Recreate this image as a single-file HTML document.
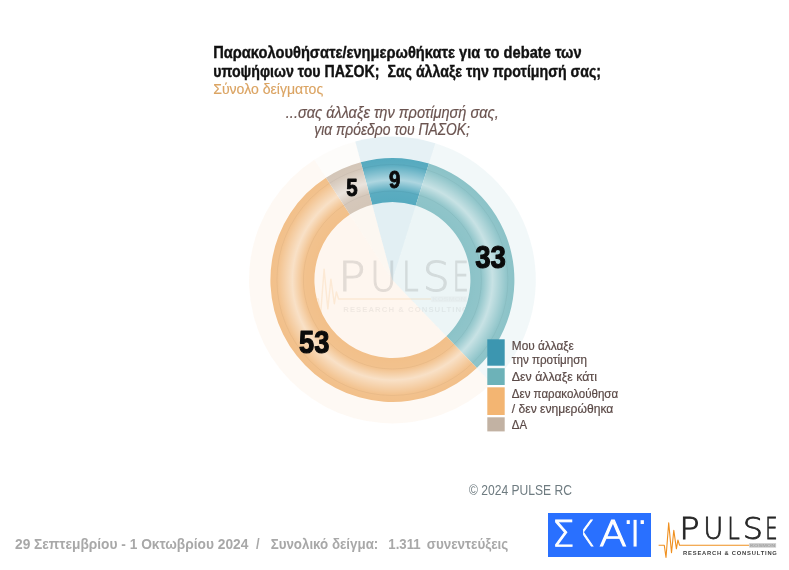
<!DOCTYPE html>
<html lang="el">
<head>
<meta charset="utf-8">
<title>PULSE RC - ΣΚΑΪ</title>
<style>
html,body{margin:0;padding:0;background:#fff;}
body{width:789px;height:570px;overflow:hidden;position:relative;}
svg{display:block;position:absolute;left:0;top:0;}
svg{font-family:"Liberation Sans",sans-serif;}
.b{font-weight:bold;}
.i{font-style:italic;}
.thin{font-family:"DejaVu Sans Light","DejaVu Sans","Liberation Sans",sans-serif;font-weight:200;}
</style>
</head>
<body>
<svg width="789" height="570" viewBox="0 0 789 570">
<defs>
<radialGradient id="tube" gradientUnits="userSpaceOnUse" cx="392.4" cy="280.0" r="122.0">
<stop offset="0.6393" stop-color="#fff" stop-opacity="0"/>
<stop offset="0.7295" stop-color="#fff" stop-opacity="0.03"/>
<stop offset="0.8197" stop-color="#fff" stop-opacity="0.52"/>
<stop offset="0.9426" stop-color="#fff" stop-opacity="0.03"/>
<stop offset="1" stop-color="#fff" stop-opacity="0"/>
</radialGradient>
<g id="pulse">
<g class="thin" font-size="30.2" fill="#262626" stroke="#262626" stroke-width="0.8"><text transform="translate(-3.83,-0.3) scale(1.12,1)">P</text><text transform="translate(20.02,-0.3) scale(0.912,1)">U</text><text transform="translate(44.05,-0.3) scale(0.746,1)">L</text><text transform="translate(59.67,-0.3) scale(1.056,1)">S</text><text transform="translate(82.03,-0.3) scale(0.645,1)">E</text></g>
<polyline points="-24.6,5.6 -18.9,5.6 -17.2,17.8 -14.5,-16.8 -11.7,13 -9.4,-9.3 -6.8,9.1 -5.3,0.3 -3.6,5.6 66,5.6" fill="none" stroke="#f0901f" stroke-width="1.1" stroke-linejoin="round"/>
<rect x="66" y="3.5" width="26.9" height="4.4" fill="#c9c9c9"/>
<text class="b" x="66.8" y="7.3" font-size="4.2" fill="#a6a6a6" textLength="25.3" lengthAdjust="spacingAndGlyphs">KOSMON</text>
</g>
<g id="pulsesub">
<text class="b" x="-0.1" y="15.1" font-size="5.8" fill="#3d3d3d" textLength="93.8" lengthAdjust="spacing">RESEARCH &amp; CONSULTING</text>
</g>
</defs>

<!-- faint pie -->
<path d="M392.40,280.00L355.29,141.49A143.4,143.4 0 0 1 435.28,143.16Z" fill="#3c96b0" fill-opacity="0.13"/>
<path d="M392.40,280.00L435.28,143.16A143.4,143.4 0 0 1 491.65,383.50Z" fill="#6db2b8" fill-opacity="0.085"/>
<path d="M392.40,280.00L491.65,383.50A143.4,143.4 0 1 1 314.30,159.73Z" fill="#f3b572" fill-opacity="0.075"/>
<path d="M392.40,280.00L314.30,159.73A143.4,143.4 0 0 1 355.29,141.49Z" fill="#e0c8ac" fill-opacity="0.06"/>
<path d="M392.40,280.00L372.21,204.66A78.0,78.0 0 0 1 415.73,205.57Z" fill="#3c96b0" fill-opacity="0.02"/>
<path d="M392.40,280.00L415.73,205.57A78.0,78.0 0 0 1 446.39,336.30Z" fill="#6db2b8" fill-opacity="0.045"/>
<path d="M392.40,280.00L446.39,336.30A78.0,78.0 0 1 1 349.92,214.58Z" fill="#f3b572" fill-opacity="0.035"/>
<path d="M392.40,280.00L349.92,214.58A78.0,78.0 0 0 1 372.21,204.66Z" fill="#f3b572" fill-opacity="0.065"/>

<!-- watermark -->
<g transform="translate(343.4,291.6) scale(1.33)" opacity="0.12"><use href="#pulse"/></g>
<g transform="translate(343.4,291.6) scale(1.33)" opacity="0.07"><use href="#pulsesub"/></g>

<!-- ring -->
<path d="M360.82,162.16A122.0,122.0 0 0 1 428.88,163.58L415.73,205.57A78.0,78.0 0 0 0 372.21,204.66Z" fill="#56aabf"/>
<path d="M428.88,163.58A122.0,122.0 0 0 1 476.84,368.05L446.39,336.30A78.0,78.0 0 0 0 415.73,205.57Z" fill="#8cc3c8"/>
<path d="M476.84,368.05A122.0,122.0 0 1 1 325.95,177.68L349.92,214.58A78.0,78.0 0 1 0 446.39,336.30Z" fill="#f2c08a"/>
<path d="M325.95,177.68A122.0,122.0 0 0 1 360.82,162.16L372.21,204.66A78.0,78.0 0 0 0 349.92,214.58Z" fill="#d4c6b8"/>
<circle cx="392.4" cy="280.0" r="100.0" fill="none" stroke="url(#tube)" stroke-width="44.0"/>
<circle cx="392.4" cy="280.0" r="89" fill="none" stroke="#000" stroke-opacity="0.035" stroke-width="1"/>
<circle cx="392.4" cy="280.0" r="115.5" fill="none" stroke="#000" stroke-opacity="0.035" stroke-width="1"/>

<!-- values -->
<g class="b" fill="#0b0b0b" stroke="#0b0b0b" stroke-linejoin="round">
<g font-size="23.6" stroke-width="0.9">
<text x="389.0" y="187.7" textLength="11.4" lengthAdjust="spacingAndGlyphs">9</text>
<text x="346.2" y="196.2" textLength="11.4" lengthAdjust="spacingAndGlyphs">5</text>
</g>
<g font-size="31.3" stroke-width="1.2">
<text x="475.2" y="267.9" textLength="30.6" lengthAdjust="spacingAndGlyphs">33</text>
<text x="299.0" y="353.15" textLength="30.3" lengthAdjust="spacingAndGlyphs">53</text>
</g>
</g>

<!-- title -->
<g class="b" fill="#111" stroke="#111" stroke-width="0.38" font-size="16.3">
<text x="213.2" y="58.1" textLength="368.4" lengthAdjust="spacingAndGlyphs">Παρακολουθήσατε/ενημερωθήκατε για το debate των</text>
<text x="213.2" y="77.1" textLength="387.8" lengthAdjust="spacingAndGlyphs" xml:space="preserve">υποψήφιων του ΠΑΣΟΚ;  Σας άλλαξε την προτίμησή σας;</text>
</g>
<text x="213.2" y="93.6" font-size="14.3" fill="#dba463" stroke="#dba463" stroke-width="0.15" textLength="110" lengthAdjust="spacingAndGlyphs">Σύνολο δείγματος</text>
<g class="i" fill="#6b5450" stroke="#6b5450" stroke-width="0.2" font-size="16.5">
<text x="285.8" y="118.3" textLength="212.9" lengthAdjust="spacingAndGlyphs">...σας άλλαξε την προτίμησή σας,</text>
<text x="314.3" y="134.8" textLength="155.6" lengthAdjust="spacingAndGlyphs">για πρόεδρο του ΠΑΣΟΚ;</text>
</g>

<!-- legend -->
<rect x="487.3" y="339.3" width="17.4" height="26.4" fill="#3c96b0"/>
<rect x="487.3" y="368.2" width="17.4" height="16.8" fill="#6db2b8"/>
<rect x="487.3" y="387.3" width="17.4" height="27.7" fill="#f3b572"/>
<rect x="487.3" y="417.3" width="17.4" height="14.1" fill="#c2b2a3"/>
<g fill="#5b4a47" stroke="#5b4a47" stroke-width="0.2" font-size="12.5">
<text x="511.8" y="350.3" textLength="62" lengthAdjust="spacingAndGlyphs">Μου άλλαξε</text>
<text x="511.8" y="364.3" textLength="75.2" lengthAdjust="spacingAndGlyphs">την προτίμηση</text>
<text x="511.8" y="381.4" textLength="85.2" lengthAdjust="spacingAndGlyphs">Δεν άλλαξε κάτι</text>
<text x="511.8" y="398.1" textLength="106.3" lengthAdjust="spacingAndGlyphs">Δεν παρακολούθησα</text>
<text x="511.8" y="412.6" textLength="101.5" lengthAdjust="spacingAndGlyphs">/ δεν ενημερώθηκα</text>
<text x="511.8" y="429.3" textLength="15.2" lengthAdjust="spacingAndGlyphs">ΔΑ</text>
</g>

<text x="469" y="494.9" font-size="13.9" fill="#6e7b80" textLength="103" lengthAdjust="spacingAndGlyphs">© 2024 PULSE RC</text>

<!-- footer -->
<g class="b" fill="#a8a8a8" font-size="14">
<text x="15" y="549.2" textLength="233.3" lengthAdjust="spacingAndGlyphs">29 Σεπτεμβρίου - 1 Οκτωβρίου 2024</text>
<text x="256" y="549.2" textLength="3.6" lengthAdjust="spacingAndGlyphs">/</text>
<text x="270.7" y="549.2" textLength="107.6" lengthAdjust="spacingAndGlyphs">Συνολικό δείγμα:</text>
<text x="388.3" y="549.2" textLength="32.4" lengthAdjust="spacingAndGlyphs">1.311</text>
<text x="426.7" y="549.2" textLength="81.6" lengthAdjust="spacingAndGlyphs">συνεντεύξεις</text>
</g>

<!-- SKAI logo -->
<rect x="548" y="513" width="103" height="44" fill="#2970ff"/>
<clipPath id="kc"><rect x="8.8" y="-30" width="30" height="34"/></clipPath>
<clipPath id="ic"><rect x="0" y="-26.1" width="12" height="30"/></clipPath>
<g class="thin" fill="#fff" stroke="#fff" stroke-width="1" font-size="34.8"><text transform="translate(552.3,545.9)">Σ</text><text transform="translate(576.9,545.9) scale(0.707,1)" clip-path="url(#kc)">Κ</text><text transform="translate(599.3,545.9) scale(1.157,1)">Α</text><text transform="translate(629.95,545.9)" stroke-width="1.2" clip-path="url(#ic)">Ϊ</text></g>
<rect x="626.7" y="520.2" width="3.1" height="3.8" fill="#fff"/>
<rect x="640.6" y="520.2" width="3.3" height="3.8" fill="#fff"/>

<!-- PULSE logo -->
<g transform="translate(683.2,539.7)"><use href="#pulse"/><use href="#pulsesub"/></g>
</svg>
</body>
</html>
